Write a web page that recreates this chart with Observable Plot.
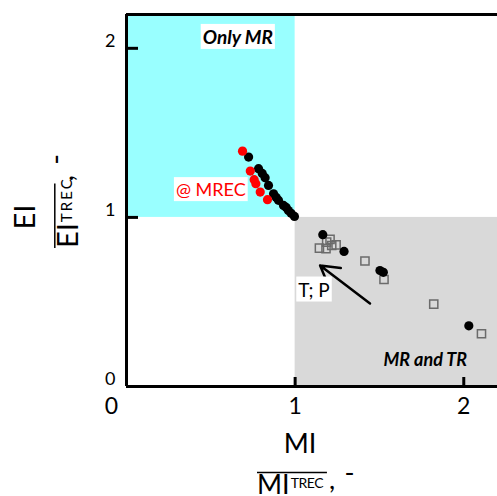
<!DOCTYPE html>
<html>
<head>
<meta charset="utf-8">
<script src="https://cdn.jsdelivr.net/npm/d3@7"></script>
<script src="https://cdn.jsdelivr.net/npm/@observablehq/plot@0.6"></script>
<style>
  html, body { margin: 0; padding: 0; background: #fff; }
  #chart svg { display: block; }
</style>
</head>
<body>
<div id="chart"></div>
<script>
// ---- data ----
const xTicks = [0, 1, 2];
const yTicks = [0, 1, 2];
const xDomain = [0, 2.2];
const yDomain = [0, 2.2];

// shaded regions
const onlyMRRegion = [{x1: 0, x2: 1, y1: 1, y2: 2.2}];
const mrTRRegion = [{x1: 1, x2: 2.2, y1: 0, y2: 1}];

// black circles along the MREC curve
const curveBlackMI = [0.724, 0.783, 0.805, 0.822, 0.842, 0.872, 0.888, 0.901, 0.931, 0.947, 0.960, 0.976, 0.996];
const curveBlackEI = [1.357, 1.288, 1.260, 1.235, 1.189, 1.140, 1.118, 1.101, 1.071, 1.059, 1.041, 1.024, 1.006];

// red circles @ MREC
const redMI = [0.688, 0.734, 0.757, 0.767, 0.793, 0.836];
const redEI = [1.392, 1.274, 1.223, 1.199, 1.150, 1.105];

// black circles in MR and TR region
const trBlackMI = [1.164, 1.290, 1.503, 1.523, 2.030];
const trBlackEI = [0.898, 0.799, 0.686, 0.675, 0.359];

// open squares
const squareMI = [1.144, 1.187, 1.207, 1.183, 1.217, 1.243, 1.414, 1.527, 1.822, 2.105];
const squareEI = [0.818, 0.854, 0.870, 0.815, 0.834, 0.838, 0.742, 0.633, 0.487, 0.312];

// arrow (T; P)
const arrowData = [{x1: 1.444, y1: 0.491, x2: 1.148, y2: 0.716}];

// annotations
const boxedLabels = [
  {x: 0.50, y: 1.160, text: "@ MREC", color: "#ff0000", size: 18},
  {x: 1.112, y: 0.568, text: "T; P", color: "black", size: 19}
];
const regionLabels = [
  {x: 0.66, y: 2.062, text: "Only MR", size: 19, boxed: true},
  {x: 1.772, y: 0.157, text: "MR and TR", size: 18, boxed: false}
];
const boxedTexts = new Set([...boxedLabels.map(d => d.text), ...regionLabels.filter(d => d.boxed).map(d => d.text)]);

const xTitle = "MI";
const yTitle = "EI";
const refSup = "TREC";
const unitSuffix = ",";
const unitDash = "-";

const cyan = "#99ffff";
const gray = "#d9d9d9";

const zipXY = (xs, ys) => xs.map((x, i) => ({x, y: ys[i]}));
const fmt = d3.format("d");

const chart = Plot.plot({
  width: 497,
  height: 496,
  marginLeft: 126,
  marginRight: 0,
  marginTop: 14,
  marginBottom: 110,
  x: {domain: xDomain, label: null},
  y: {domain: yDomain, label: null},
  style: {fontFamily: "Lato, sans-serif", color: "black", background: "white", overflow: "visible"},
  marks: [
    Plot.rect(onlyMRRegion, {x1: "x1", x2: "x2", y1: "y1", y2: "y2", fill: cyan}),
    Plot.rect(mrTRRegion, {x1: "x1", x2: "x2", y1: "y1", y2: "y2", fill: gray}),
    // tick marks (inside the frame)
    Plot.axisX({ticks: xTicks.filter(d => d !== 0), tickSize: 9, dy: -9, strokeWidth: 3, fill: "none", label: null}),
    Plot.axisY({ticks: yTicks.filter(d => d !== 0), tickSize: 12, dx: 12, strokeWidth: 3, fill: "none", label: null}),
    // tick labels
    Plot.axisX({ticks: xTicks.filter(d => d !== 0), tickFormat: fmt, tickSize: 0, tickPadding: 11, fontSize: 23, label: null}),
    Plot.axisX({ticks: xTicks.filter(d => d === 0), tickFormat: fmt, tickSize: 0, tickPadding: 11, fontSize: 23, dx: -15, label: null}),
    Plot.axisY({ticks: yTicks, tickFormat: fmt, tickSize: 0, tickPadding: 11, fontSize: 18, dy: -7, label: null}),
    // frame lines
    Plot.ruleX([xDomain[0]], {strokeWidth: 3, stroke: "black"}),
    Plot.ruleY([yDomain[0]], {strokeWidth: 3, stroke: "black"}),
    Plot.ruleY([yDomain[1]], {strokeWidth: 3, stroke: "black"}),
    // data
    Plot.dot(zipXY(squareMI, squareEI), {x: "x", y: "y", symbol: "square", r: 4.6, stroke: "#6b6b6b", strokeWidth: 1.5, fill: "none"}),
    Plot.dot(zipXY(trBlackMI, trBlackEI), {x: "x", y: "y", r: 4.6, fill: "black"}),
    Plot.dot(zipXY(curveBlackMI, curveBlackEI), {x: "x", y: "y", r: 4.6, fill: "black"}),
    Plot.dot(zipXY(redMI, redEI), {x: "x", y: "y", r: 4.6, fill: "#ff0000"}),
    Plot.arrow(arrowData, {x1: "x1", y1: "y1", x2: "x2", y2: "y2", stroke: "black", strokeWidth: 2.5, headLength: 14, headAngle: 60}),
    // annotations
    ...boxedLabels.map(d => Plot.text([d], {x: "x", y: "y", text: "text", fill: d.color, fontSize: d.size})),
    ...regionLabels.map(d => Plot.text([d], {x: "x", y: "y", text: "text", fill: "black", fontSize: d.size, fontWeight: "bold", fontStyle: "italic"}))
  ]
});

document.getElementById("chart").append(chart);

// white boxes behind boxed labels
d3.select(chart).selectAll("text").filter(function() { return boxedTexts.has(this.textContent); }).each(function() {
  const b = this.getBBox();
  const padX = 2, padY = 1;
  const r = document.createElementNS("http://www.w3.org/2000/svg", "rect");
  r.setAttribute("x", b.x - padX);
  r.setAttribute("y", b.y - padY);
  r.setAttribute("width", b.width + 2 * padX);
  r.setAttribute("height", b.height + 2 * padY);
  r.setAttribute("fill", "white");
  const tr = this.getAttribute("transform");
  if (tr) r.setAttribute("transform", tr);
  this.parentNode.insertBefore(r, this);
});

// axis titles (fraction style)
const svg = d3.select(chart);
const tg = svg.append("g").attr("font-family", "Lato, sans-serif").attr("fill", "black").attr("text-anchor", "start");

function fraction(g, big, supSize, supLen, bigSize) {
  const t = g.append("text").attr("font-size", bigSize).attr("text-anchor", "start");
  t.append("tspan").text(big);
  t.append("tspan").attr("font-size", supSize).attr("dy", -6).attr("dx", 1)
    .attr("textLength", supLen).attr("lengthAdjust", "spacing").text(refSup);
  const len = t.node().getComputedTextLength() + 1;
  g.append("line").attr("x1", 0).attr("x2", len + 2).attr("y1", -bigSize * 0.8).attr("y2", -bigSize * 0.8)
    .attr("stroke", "black").attr("stroke-width", 1.5);
  const s = g.append("text").attr("font-size", bigSize).attr("text-anchor", "start").attr("x", len + 4).attr("y", -5);
  s.append("tspan").text(unitSuffix);
  s.append("tspan").attr("dx", bigSize * 0.35).attr("dy", -7).text(unitDash);
}

// x title
tg.append("text").attr("x", 300).attr("y", 453).attr("text-anchor", "middle").attr("font-size", 27).text(xTitle);
fraction(tg.append("g").attr("transform", "translate(257,494)"), xTitle, 14, 33, 27);

// y title
tg.append("text").attr("transform", "translate(35,217) rotate(-90)").attr("text-anchor", "middle").attr("font-size", 29).text(yTitle);
fraction(tg.append("g").attr("transform", "translate(78,248) rotate(-90)"), yTitle, 15, 43, 29);
</script>
</body>
</html>
